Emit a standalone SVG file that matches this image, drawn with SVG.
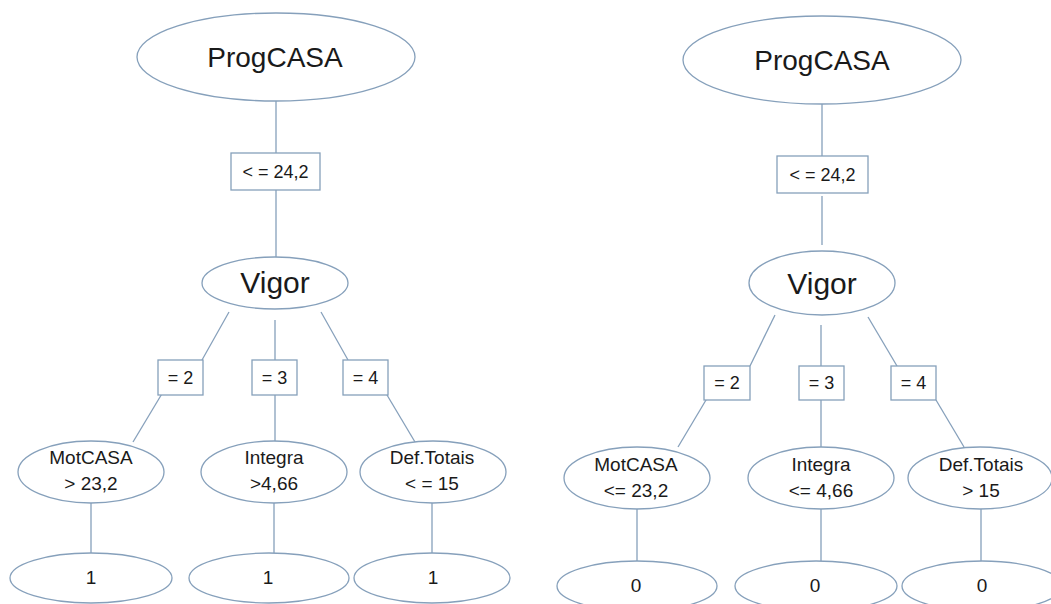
<svg xmlns="http://www.w3.org/2000/svg" width="1051" height="604" viewBox="0 0 1051 604">
<style>
.n{fill:#fff;stroke:#86a0bb;stroke-width:1.3}
.b{fill:#fff;stroke:#86a0bb;stroke-width:1.3}
.c line{stroke:#86a0bb;stroke-width:1.3}
text{font-family:"Liberation Sans",Arial,sans-serif;fill:#1a1a1a;text-anchor:middle}
.t1{font-size:28px}
.tv{font-size:30px}
.t2{font-size:18px}
.t3{font-size:19px}
</style>
<rect width="1051" height="604" fill="#fff"/>
<g class="c" id="connectors">
<line x1="276" y1="101" x2="276" y2="153"/>
<line x1="276" y1="190" x2="276" y2="257"/>
<line x1="229" y1="312" x2="202" y2="360"/>
<line x1="163" y1="392" x2="133" y2="442"/>
<line x1="275" y1="320" x2="275" y2="360"/>
<line x1="275" y1="395" x2="275" y2="442"/>
<line x1="321" y1="312" x2="348" y2="360"/>
<line x1="387" y1="395" x2="415" y2="442"/>
<line x1="91" y1="502" x2="91" y2="553"/>
<line x1="274" y1="502" x2="274" y2="553"/>
<line x1="432" y1="502" x2="432" y2="553"/>
<line x1="822" y1="104" x2="822" y2="156"/>
<line x1="822" y1="196" x2="822" y2="245"/>
<line x1="775" y1="315" x2="750" y2="366"/>
<line x1="709" y1="395" x2="678" y2="447"/>
<line x1="821" y1="325" x2="821" y2="366"/>
<line x1="821" y1="400" x2="821" y2="448"/>
<line x1="868" y1="317" x2="897" y2="366"/>
<line x1="936" y1="400" x2="964" y2="447"/>
<line x1="637" y1="508" x2="637" y2="561"/>
<line x1="821" y1="508" x2="821" y2="561"/>
<line x1="981" y1="508" x2="981" y2="561"/>
</g>
<g id="L-root"><ellipse class="n" cx="276" cy="57" rx="139" ry="44"/><text class="t1" x="275" y="67">ProgCASA</text></g>
<g id="L-e1"><rect class="b" x="231" y="153" width="89" height="37"/><text class="t2" x="275.5" y="178">&lt; = 24,2</text></g>
<g id="L-vigor"><ellipse class="n" cx="275" cy="283" rx="73" ry="26"/><text class="tv" x="275" y="293">Vigor</text></g>
<g id="L-e2"><rect class="b" x="158" y="360" width="45" height="35"/><text class="t2" x="180.5" y="384">= 2</text></g>
<g id="L-e3"><rect class="b" x="252" y="360" width="45" height="35"/><text class="t2" x="274.5" y="384">= 3</text></g>
<g id="L-e4"><rect class="b" x="343" y="360" width="45" height="35"/><text class="t2" x="365.5" y="384">= 4</text></g>
<g id="L-mot"><ellipse class="n" cx="91" cy="472" rx="73" ry="31"/><text class="t3" x="91" y="464">MotCASA</text><text class="t3" x="91" y="490">&gt; 23,2</text></g>
<g id="L-int"><ellipse class="n" cx="274" cy="472" rx="73" ry="31"/><text class="t3" x="274" y="464">Integra</text><text class="t3" x="274" y="490">&gt;4,66</text></g>
<g id="L-def"><ellipse class="n" cx="433" cy="472" rx="73" ry="31"/><text class="t3" x="432" y="464">Def.Totais</text><text class="t3" x="432" y="490">&lt; = 15</text></g>
<g id="L-leaf1"><ellipse class="n" cx="91" cy="578" rx="81" ry="25"/><text class="t3" x="91" y="584">1</text></g>
<g id="L-leaf2"><ellipse class="n" cx="269" cy="578" rx="80" ry="25"/><text class="t3" x="268" y="584">1</text></g>
<g id="L-leaf3"><ellipse class="n" cx="432" cy="578" rx="78" ry="25"/><text class="t3" x="433" y="584">1</text></g>
<g id="R-root"><ellipse class="n" cx="822" cy="60" rx="139" ry="44"/><text class="t1" x="822" y="70">ProgCASA</text></g>
<g id="R-e1"><rect class="b" x="777" y="156" width="91" height="37"/><text class="t2" x="822.5" y="181">&lt; = 24,2</text></g>
<g id="R-vigor"><ellipse class="n" cx="822" cy="283" rx="73" ry="32"/><text class="tv" x="822" y="294">Vigor</text></g>
<g id="R-e2"><rect class="b" x="704" y="366" width="46" height="34"/><text class="t2" x="727" y="389">= 2</text></g>
<g id="R-e3"><rect class="b" x="799" y="366" width="45" height="34"/><text class="t2" x="821.5" y="389">= 3</text></g>
<g id="R-e4"><rect class="b" x="891" y="366" width="45" height="34"/><text class="t2" x="913.5" y="389">= 4</text></g>
<g id="R-mot"><ellipse class="n" cx="637" cy="478" rx="73" ry="31"/><text class="t3" x="636" y="471">MotCASA</text><text class="t3" x="636" y="497">&lt;= 23,2</text></g>
<g id="R-int"><ellipse class="n" cx="821" cy="478" rx="73" ry="31"/><text class="t3" x="821" y="471">Integra</text><text class="t3" x="821" y="497">&lt;= 4,66</text></g>
<g id="R-def"><ellipse class="n" cx="980" cy="478" rx="72" ry="31"/><text class="t3" x="981" y="471">Def.Totais</text><text class="t3" x="981" y="497">&gt; 15</text></g>
<g id="R-leaf1"><ellipse class="n" cx="637" cy="586" rx="80" ry="25"/><text class="t3" x="636" y="592">0</text></g>
<g id="R-leaf2"><ellipse class="n" cx="816" cy="586" rx="81" ry="25"/><text class="t3" x="815" y="592">0</text></g>
<g id="R-leaf3"><ellipse class="n" cx="982" cy="586" rx="80" ry="25"/><text class="t3" x="982" y="592">0</text></g>
</svg>
